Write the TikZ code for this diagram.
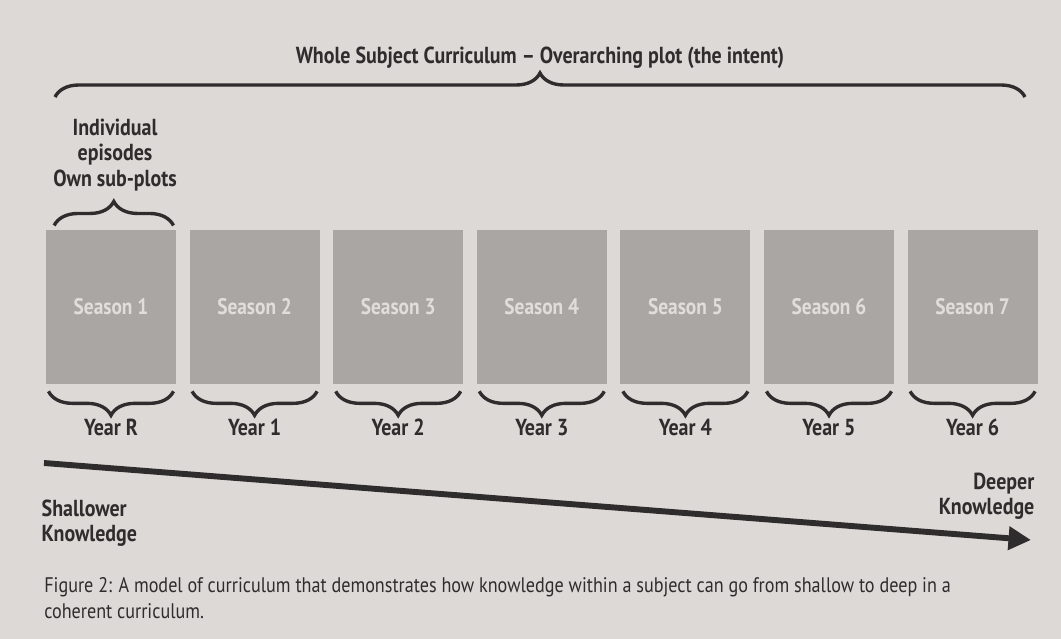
\documentclass[tikz,border=0pt]{standalone}
\usepackage{fontspec}
\setmainfont{PT Sans}[FakeStretch=0.86]
\usetikzlibrary{positioning}
\usetikzlibrary{arrows.meta}
\usetikzlibrary{decorations.pathreplacing}
\definecolor{pagegrey}{HTML}{DCD9D7}
\definecolor{boxgrey}{HTML}{A9A6A4}
\definecolor{boxtext}{HTML}{E0DDDA}
\definecolor{inkgrey}{HTML}{2E2C2C}

\begin{document}
\begin{tikzpicture}[
    x=0.025cm, y=-0.025cm,
    season/.style={fill=boxgrey, minimum width=3.25cm, minimum height=3.85cm, inner sep=0pt,
        text=boxtext, font=\fontsize{16}{18}\selectfont\bfseries},
    lbl/.style={text=inkgrey, inner sep=1pt, font=\fontsize{16.5}{18}\selectfont\bfseries},
    brc/.style={draw=inkgrey, line width=2.4pt, decorate, decoration={brace, amplitude=0.6cm}}
]
    % Page
    \fill[pagegrey] (0,0) rectangle (1061,639);
    \useasboundingbox (0,0) rectangle (1061,639);

    % Seasons
    \node[season] (s1) at (111,307) {Season 1};
    \node[season, right=0.325cm of s1] (s2) {Season 2};
    \node[season, right=0.325cm of s2] (s3) {Season 3};
    \node[season, right=0.325cm of s3] (s4) {Season 4};
    \node[season, right=0.325cm of s4] (s5) {Season 5};
    \node[season, right=0.325cm of s5] (s6) {Season 6};
    \node[season, right=0.325cm of s6] (s7) {Season 7};

    % Years
    \node[lbl, below=0.82cm of s1] (y1) {Year R};
    \node[lbl, below=0.82cm of s2] (y2) {Year 1};
    \node[lbl, below=0.82cm of s3] (y3) {Year 2};
    \node[lbl, below=0.82cm of s4] (y4) {Year 3};
    \node[lbl, below=0.82cm of s5] (y5) {Year 4};
    \node[lbl, below=0.82cm of s6] (y6) {Year 5};
    \node[lbl, below=0.82cm of s7] (y7) {Year 6};

    % Braces under the seasons
    \draw[brc] ([shift={(-2pt,-5pt)}]s1.south east) -- ([shift={(2pt,-5pt)}]s1.south west);
    \draw[brc] ([shift={(-2pt,-5pt)}]s2.south east) -- ([shift={(2pt,-5pt)}]s2.south west);
    \draw[brc] ([shift={(-2pt,-5pt)}]s3.south east) -- ([shift={(2pt,-5pt)}]s3.south west);
    \draw[brc] ([shift={(-2pt,-5pt)}]s4.south east) -- ([shift={(2pt,-5pt)}]s4.south west);
    \draw[brc] ([shift={(-2pt,-5pt)}]s5.south east) -- ([shift={(2pt,-5pt)}]s5.south west);
    \draw[brc] ([shift={(-2pt,-5pt)}]s6.south east) -- ([shift={(2pt,-5pt)}]s6.south west);
    \draw[brc] ([shift={(-2pt,-5pt)}]s7.south east) -- ([shift={(2pt,-5pt)}]s7.south west);

    % Episodes
    \node[lbl, align=center] (ep) at (115,155) {Individual\\episodes\\Own sub-plots};
    \draw[brc] ([shift={(6pt,3pt)}]s1.north west) -- ([shift={(-2pt,3pt)}]s1.north east);

    % Whole curriculum
    \node[lbl] (whole) at (540,58) {Whole Subject Curriculum -- Overarching plot (the intent)};
    \coordinate (wl) at (55,97);
    \coordinate (wr) at (1025,97);
    \draw[brc] (wl) -- (wr);

    % Knowledge arrow
    \coordinate (sk) at (44,463);
    \coordinate (dk) at (1031,540);
    \draw[inkgrey, line width=4.2pt, -{Triangle[length=16pt, width=16pt]}] (sk) -- (dk);
    \node[lbl, align=left, anchor=north west] (shallow) at (40,498) {Shallower\\Knowledge};
    \node[lbl, align=right, anchor=north east] (deep) at (1036,471) {Deeper\\Knowledge};

    % Caption
    \node[text=inkgrey, inner sep=0pt, align=left, anchor=north west,
        font=\fontsize{15}{18.4}\selectfont] (cap) at (44,577)
        {Figure 2: A model of curriculum that demonstrates how knowledge within a subject can go from shallow to deep in a\\coherent curriculum.};
\end{tikzpicture}
\end{document}
